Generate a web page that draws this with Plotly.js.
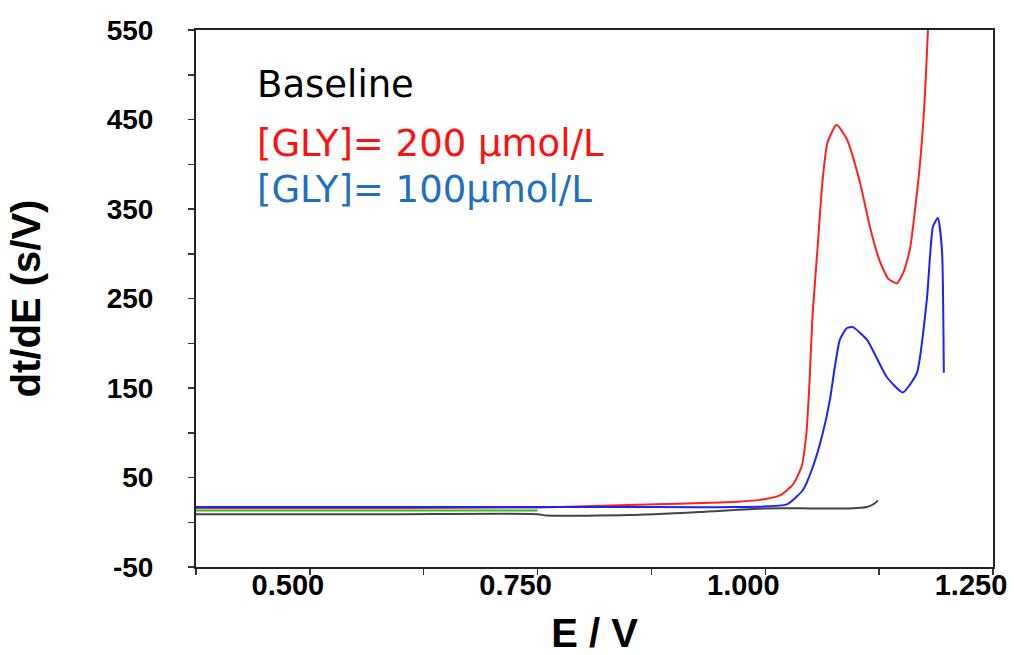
<!DOCTYPE html>
<html>
<head>
<meta charset="utf-8">
<script src="https://cdn.plot.ly/plotly-3.0.1.min.js"></script>
<style>html,body{margin:0;padding:0;background:#fff;}#chart{width:1014px;height:655px;}</style>
</head>
<body>
<div id="chart"></div>
<script>
// Baseline (black)
const baselineE = [0.375, 0.5, 0.6, 0.75, 0.76, 0.85, 0.928, 1.0, 1.05, 1.093, 1.1115, 1.12, 1.1236];
const baselineV = [9, 9, 9, 9, 7.5, 8, 11.5, 15.5, 15.5, 15.5, 17, 21, 24.5];
// Green trace (partial, 0.375–0.75 V)
const greenE = [0.375, 0.5, 0.6, 0.75];
const greenV = [13, 13, 13, 13];
// [GLY] = 200 µmol/L (red)
const redE = [0.375, 0.5, 0.6, 0.75, 0.82, 0.88, 0.93, 0.97, 0.994, 1.016, 1.0303, 1.0398, 1.0452, 1.0485, 1.0518, 1.0573, 1.0627, 1.0682, 1.0782, 1.0896, 1.1039, 1.1149, 1.1256, 1.135, 1.1445, 1.152, 1.159, 1.1695, 1.175, 1.179];
const redV = [16, 16, 16, 16.5, 18.5, 20, 21.5, 23, 25, 30, 42, 62, 100, 156, 230, 305, 380, 424, 444, 428, 380, 330, 292, 272, 267, 280, 306, 397, 472, 560];
// [GLY] = 100 µmol/L (blue)
const blueE = [0.375, 0.5, 0.6, 0.75, 0.85, 0.9645, 1.0237, 1.0413, 1.0523, 1.0632, 1.071, 1.0764, 1.0819, 1.0896, 1.0962, 1.1116, 1.1236, 1.1335, 1.151, 1.1665, 1.1774, 1.184, 1.1895, 1.194, 1.196];
const blueV = [17, 17, 17, 17, 17, 17, 20, 36, 62, 100, 137, 174, 204, 217, 218, 204, 181, 162, 145, 167, 249, 330, 340, 304, 167];

const yTickVals = [-50, 50, 150, 250, 350, 450, 550];
const yTickText = ["-50", "50", "150", "250", "350", "450", "550"];
const xTickVals = [0.5, 0.75, 1.0, 1.25];
const xTickText = ["0.500", "0.750", "1.000", "1.250"];

const legendLabels = ["Baseline", "[GLY]= 200 µmol/L", "[GLY]= 100µmol/L"];
const legendColors = ["#000000", "#ff1010", "#1f6fc0"];

const traces = [
  {x: baselineE, y: baselineV, mode: 'lines', line: {color: '#444444', width: 2, shape: 'spline', smoothing: 0.6}},
  {x: greenE, y: greenV, mode: 'lines', line: {color: '#22c022', width: 2}},
  {x: redE, y: redV, mode: 'lines', line: {color: '#ff2020', width: 2, shape: 'spline', smoothing: 0.5}},
  {x: blueE, y: blueV, mode: 'lines', line: {color: '#2020ff', width: 2, shape: 'spline', smoothing: 0.5}}
];

const boldFont = (s) => ({family: 'Liberation Sans, Arial, sans-serif', size: s, color: '#000', weight: 'bold'});
const legendY = [0.8985, 0.789, 0.703];

const layout = {
  width: 1014, height: 655,
  margin: {l: 196, r: 21, t: 30, b: 88},
  paper_bgcolor: '#fff', plot_bgcolor: '#fff',
  showlegend: false,
  xaxis: {
    range: [0.375, 1.25], tickmode: 'array', tickvals: xTickVals, ticktext: xTickText,
    ticks: 'outside', ticklen: 6, tickwidth: 1.5, tickcolor: '#333',
    minor: {dtick: 0.125, tick0: 0.375, ticks: 'outside', ticklen: 6, tickwidth: 1.5, tickcolor: '#333', showgrid: false},
    showline: true, linecolor: '#222', linewidth: 2, mirror: true,
    showgrid: false, zeroline: false,
    tickfont: boldFont(29),
    ticklabelshift: -22,
    ticklabelstandoff: -15,
    title: {text: 'E / V', font: boldFont(40), standoff: 36},
    automargin: false
  },
  yaxis: {
    range: [-50, 550], tickmode: 'array', tickvals: yTickVals, ticktext: yTickText,
    ticks: 'outside', ticklen: 6, tickwidth: 1.5, tickcolor: '#333',
    minor: {dtick: 50, tick0: -50, ticks: 'outside', ticklen: 6, tickwidth: 1.5, tickcolor: '#333', showgrid: false},
    showline: true, linecolor: '#222', linewidth: 2, mirror: true,
    showgrid: false, zeroline: false,
    tickfont: boldFont(28),
    ticklabelstandoff: 29,
    title: {text: 'dt/dE (s/V)', font: boldFont(40), standoff: 54},
    automargin: false
  },
  annotations: legendLabels.map((t, i) => ({
    text: t, xref: 'paper', yref: 'paper', x: 0.074, y: legendY[i],
    xanchor: 'left', yanchor: 'middle', showarrow: false,
    font: {family: 'DejaVu Sans, sans-serif', size: 37, color: legendColors[i]}
  }))
};

Plotly.newPlot('chart', traces, layout, {staticPlot: true, displayModeBar: false});
</script>
</body>
</html>
